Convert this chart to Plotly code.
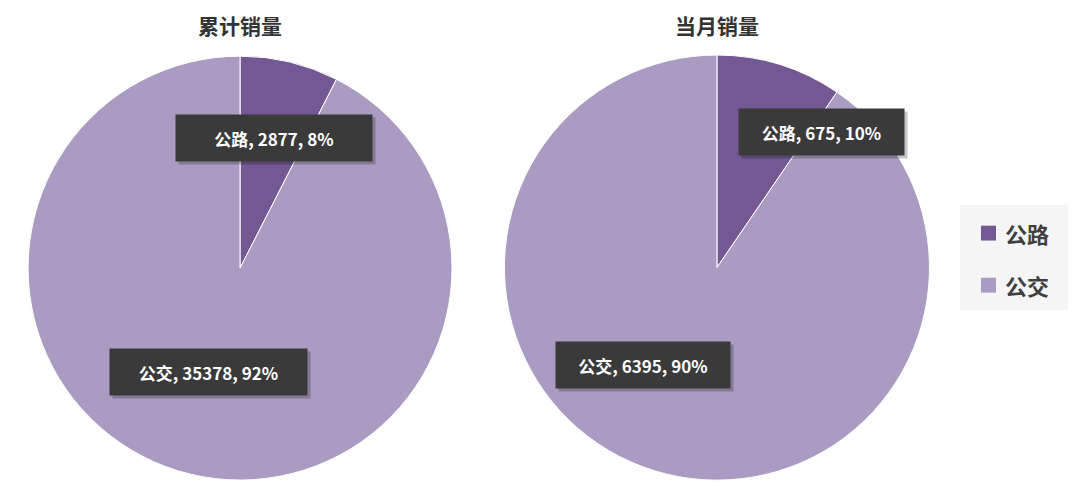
import plotly.graph_objects as go

labels = ['公路', '公交']
cum_values = [2877, 35378]
month_values = [675, 6395]
titles = ['累计销量', '当月销量']
colors = ['#735893', '#a99bc1']

fig = go.Figure()
fig.add_trace(go.Pie(labels=labels, values=cum_values, sort=False, direction='clockwise',
                     rotation=0, textinfo='none', hoverinfo='label+value+percent',
                     marker=dict(colors=colors, line=dict(color='white', width=1)),
                     domain=dict(x=[0.026, 0.4185], y=[0.032, 0.887])))
fig.add_trace(go.Pie(labels=labels, values=month_values, sort=False, direction='clockwise',
                     rotation=0, textinfo='none', hoverinfo='label+value+percent',
                     marker=dict(colors=colors, line=dict(color='white', width=1)),
                     domain=dict(x=[0.4667, 0.861], y=[0.032, 0.889])))


def pct(v, vals):
    return round(100 * v / sum(vals))


# data label boxes: (x, y, box width) in paper coords / px
label_pos = [[(0.2537, 0.7218, 196), (0.1931, 0.2500, 197)],
             [(0.7606, 0.7339, 165), (0.5954, 0.2651, 174)]]
for vals, pos in zip([cum_values, month_values], label_pos):
    for i, lab in enumerate(labels):
        x, y, w = pos[i]
        # shadow
        fig.add_annotation(x=x, y=y, xref='paper', yref='paper', text=' ', showarrow=False,
                           xanchor='center', yanchor='middle', xshift=3, yshift=-3,
                           bgcolor='rgba(0,0,0,0.22)', width=w - 8, height=38, borderpad=4)
        fig.add_annotation(x=x, y=y, xref='paper', yref='paper',
                           text='<b>%s, %d, %d%%</b>' % (lab, vals[i], pct(vals[i], vals)),
                           showarrow=False, xanchor='center', yanchor='middle',
                           bgcolor='#3a3a3a', width=w - 8, height=38,
                           borderpad=4, font=dict(color='white', size=17))

for t, x in zip(titles, [0.2222, 0.6639]):
    fig.add_annotation(x=x, y=0.95, xref='paper', yref='paper', text='<b>%s</b>' % t,
                       showarrow=False, xanchor='center', yanchor='middle',
                       font=dict(size=21, color='#333333'))

# legend drawn on the right
fig.add_shape(type='rect', xref='paper', yref='paper', x0=0.889, x1=0.989, y0=0.375, y1=0.587,
              fillcolor='#f5f5f5', line=dict(width=0), layer='below')
for i, (lab, c) in enumerate(zip(labels, colors)):
    yc = 0.530 - i * 0.105
    fig.add_shape(type='rect', xref='paper', yref='paper', x0=0.9083, x1=0.9222,
                  y0=yc - 0.015, y1=yc + 0.015, fillcolor=c, line=dict(width=0))
    fig.add_annotation(x=0.929, y=yc, xref='paper', yref='paper', text='<b>%s</b>' % lab,
                       showarrow=False, xanchor='left', yanchor='middle',
                       font=dict(size=22, color='#404040'))

fig.update_layout(
    width=1080, height=496, margin=dict(l=0, r=0, t=0, b=0),
    paper_bgcolor='white', plot_bgcolor='white',
    font=dict(family='Noto Sans CJK SC, sans-serif'),
    showlegend=False,
)
fig.write_html('out.html', config={'displayModeBar': False},
               post_script="document.body.style.margin='0px';")
